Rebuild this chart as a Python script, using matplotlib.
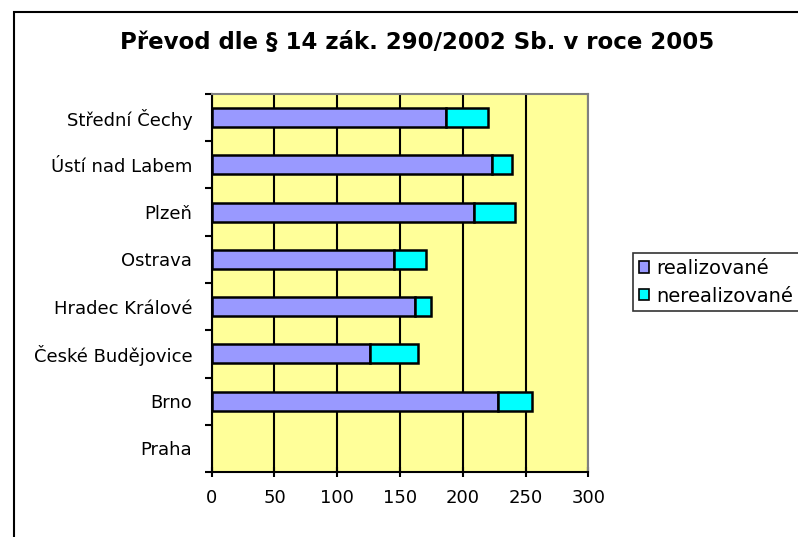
import numpy as np
import matplotlib.pyplot as plt
from matplotlib.patches import Rectangle, Patch

regions = ['Praha', 'Brno', 'České Budějovice', 'Hradec Králové',
           'Ostrava', 'Plzeň', 'Ústí nad Labem', 'Střední Čechy']
realizovane = [0, 228, 126, 162, 145, 209, 223, 187]
nerealizovane = [0, 27, 38, 13, 26, 33, 16, 33]

fig = plt.figure(figsize=(7.98, 5.37), dpi=100)
ax = fig.add_axes([0.2653, 0.121, 0.4719, 0.704])
ax.set_facecolor('#FFFF99')

y = np.arange(len(regions))
# no outline for empty bars (Praha)
lw1 = [1.8 if v > 0 else 0 for v in realizovane]
lw2 = [1.8 if v > 0 else 0 for v in nerealizovane]
ax.barh(y, realizovane, height=0.4, color='#9999FF', edgecolor='black', linewidth=lw1)
ax.barh(y, nerealizovane, left=realizovane, height=0.4, color='#00FFFF',
        edgecolor='black', linewidth=lw2)

ax.set_xlim(0, 300)
ax.set_ylim(-0.5, len(regions) - 0.5)
ax.set_xticks(range(0, 301, 50))
ax.xaxis.grid(True, color='black', linewidth=1.5)
ax.set_axisbelow(True)

ax.set_yticks(y)
ax.set_yticklabels(regions, fontsize=13)
ax.set_yticks(np.arange(-0.5, len(regions)), minor=True)
ax.tick_params(axis='y', which='major', length=0, pad=14)
ax.tick_params(axis='y', which='minor', length=5, width=1.5, direction='out')
ax.tick_params(axis='x', labelsize=13, length=7, width=1.5, direction='inout', pad=9)

for s in ['top', 'right']:
    ax.spines[s].set_color('#808080')
    ax.spines[s].set_linewidth(1.5)
for s in ['left', 'bottom']:
    ax.spines[s].set_color('black')
    ax.spines[s].set_linewidth(1.5)

fig.text(0.5226, 0.92, 'Převod dle § 14 zák. 290/2002 Sb. v roce 2005',
         ha='center', va='center', fontsize=16.5, fontweight='bold')

handles = [Patch(facecolor='#9999FF', edgecolor='black', linewidth=1.2, label='realizované'),
           Patch(facecolor='#00FFFF', edgecolor='black', linewidth=1.2, label='nerealizované')]
leg = fig.legend(handles=handles, loc='upper left', bbox_to_anchor=(0.793, 0.529),
                 fontsize=14, frameon=True, fancybox=False, edgecolor='black',
                 handlelength=0.55, handleheight=0.55, handletextpad=0.35,
                 borderpad=0.3, labelspacing=0.45, borderaxespad=0)
leg.get_frame().set_linewidth(1.2)

fig.patches.append(Rectangle((14 / 798, -0.1), 1.0, 1.1 - 12 / 537,
                             transform=fig.transFigure, fill=False,
                             edgecolor='black', linewidth=1.5))

fig.savefig('out.png', dpi=100)
